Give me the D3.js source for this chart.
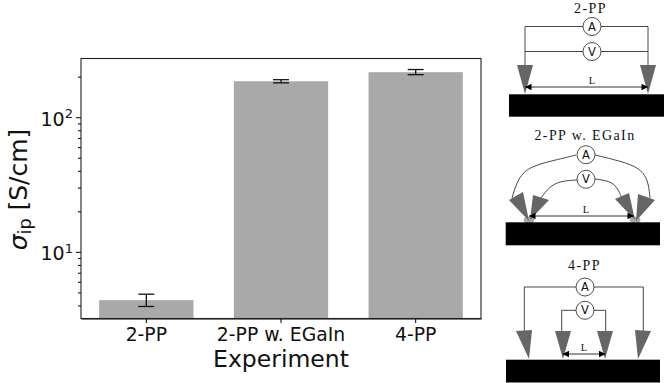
<!DOCTYPE html>
<html>
<head>
<meta charset="utf-8">
<script src="https://cdn.jsdelivr.net/npm/d3@7"></script>
<style>
body { margin: 0; background: #fff; }
svg { display: block; }
text { fill: #111; }
.sans { font-family: "DejaVu Sans", sans-serif; }
.serif { font-family: "Liberation Serif", serif; }
</style>
</head>
<body>
<svg width="664" height="383"></svg>
<script>
// datos
const categories = ["2-PP", "2-PP w. EGaIn", "4-PP"];
const values = [4.38, 185, 216];
const errLow = [3.93, 180, 207];
const errHigh = [4.85, 190, 226];
const majorTicks = [10, 100];
const minorTicks = [4, 5, 6, 7, 8, 9, 20, 30, 40, 50, 60, 70, 80, 90, 200];

const svg = d3.select("svg");
const plotLeft = 81, plotRight = 481, plotTop = 58.5, plotBottom = 318.5;

const x = d3.scaleBand().domain(categories).range([plotLeft, plotRight])
  .paddingInner(0.3).paddingOuter(0.135);
const y = d3.scaleLog().domain([3.2, 273]).range([plotBottom, plotTop]);

// barras
svg.selectAll("rect.bar")
  .data(categories)
  .enter()
  .append("rect")
  .attr("class", "bar")
  .attr("x", d => x(d))
  .attr("width", x.bandwidth())
  .attr("y", (d, i) => y(values[i]))
  .attr("height", (d, i) => plotBottom - y(values[i]))
  .attr("fill", "#a9a9a9");

// barras de error
const mid = d => x(d) + x.bandwidth() / 2;
const err = svg.selectAll("g.err").data(categories).enter().append("g").attr("class", "err")
  .attr("stroke", "#111").attr("stroke-width", 1.3);
err.append("line").attr("x1", mid).attr("x2", mid)
  .attr("y1", (d, i) => y(errLow[i])).attr("y2", (d, i) => y(errHigh[i]));
[errLow, errHigh].forEach(arr => {
  err.append("line")
    .attr("x1", d => mid(d) - 8).attr("x2", d => mid(d) + 8)
    .attr("y1", (d, i) => y(arr[i])).attr("y2", (d, i) => y(arr[i]));
});

// ejes
const xAxis = svg.append("g").attr("class", "sans")
  .attr("transform", `translate(0,${plotBottom})`)
  .call(d3.axisBottom(x).tickSize(4.5).tickSizeOuter(0).tickPadding(5));
xAxis.selectAll("text").attr("font-size", 18.8);

svg.append("g")
  .attr("transform", `translate(${plotLeft},0)`)
  .call(d3.axisLeft(y).tickValues(minorTicks).tickSize(3).tickFormat(""))
  .call(g => g.select(".domain").remove());

const yAxis = svg.append("g").attr("class", "sans")
  .attr("transform", `translate(${plotLeft},0)`)
  .call(d3.axisLeft(y).tickValues(majorTicks).tickSize(5).tickPadding(3).tickFormat(""));
yAxis.select(".domain").remove();
yAxis.selectAll(".tick text").each(function (d) {
  const t = d3.select(this).attr("font-size", 19).attr("dy", "0.41em");
  t.append("tspan").text("10");
  t.append("tspan").text(Math.log10(d)).attr("font-size", 13).attr("dy", -7.5);
});

svg.append("rect")
  .attr("x", plotLeft).attr("y", plotTop)
  .attr("width", plotRight - plotLeft).attr("height", plotBottom - plotTop)
  .attr("fill", "none").attr("stroke", "#222").attr("stroke-width", 1.1);

svg.append("text").attr("class", "sans")
  .attr("x", 281).attr("y", 367)
  .attr("text-anchor", "middle").attr("font-size", 23.5)
  .text("Experiment");

const yLab = svg.append("text").attr("class", "sans")
  .attr("transform", `translate(26.5,${(plotTop + plotBottom) / 2 + 1}) rotate(-90)`)
  .attr("text-anchor", "middle").attr("font-size", 25);
yLab.append("tspan").text("σ").attr("font-style", "italic");
yLab.append("tspan").text("ip").attr("font-size", 17.5).attr("dy", 4);
yLab.append("tspan").text(" [S/cm]").attr("dy", -4);

// esquemas de las medidas
const defs = svg.append("defs");
defs.append("marker").attr("id", "head").attr("viewBox", "0 0 10 10")
  .attr("refX", 10).attr("refY", 5)
  .attr("markerUnits", "userSpaceOnUse")
  .attr("markerWidth", 7).attr("markerHeight", 6.5)
  .attr("orient", "auto-start-reverse")
  .append("path").attr("d", "M0,0L10,5L0,10Z").attr("fill", "#000");

const probe = "#666";
const curve = d3.line().curve(d3.curveBasis);

function sample(x1, x2, y1, y2) {
  svg.append("rect").attr("x", x1).attr("y", y1)
    .attr("width", x2 - x1).attr("height", y2 - y1).attr("fill", "#000");
}
function title(cx, yy, txt) {
  svg.append("text").attr("class", "serif").attr("x", cx).attr("y", yy)
    .attr("text-anchor", "middle").attr("font-size", 14).attr("letter-spacing", 1.4).text(txt);
}
function wire(pts, smooth) {
  svg.append("path").attr("d", smooth ? curve(pts) : d3.line()(pts))
    .attr("fill", "none").attr("stroke", "#333").attr("stroke-width", 0.9);
}
function meter(cx, cy, txt) {
  svg.append("circle").attr("cx", cx).attr("cy", cy).attr("r", 9)
    .attr("fill", "#fff").attr("stroke", "#222").attr("stroke-width", 0.8);
  svg.append("text").attr("class", "sans").attr("x", cx).attr("y", cy + 4)
    .attr("text-anchor", "middle").attr("font-size", 11.5).text(txt);
}
function tri(pts) {
  svg.append("polygon").attr("points", pts.join(" ")).attr("fill", probe);
}
function span(x1, x2, yy, lx, ly) {
  svg.append("line").attr("x1", x1).attr("x2", x2).attr("y1", yy).attr("y2", yy)
    .attr("stroke", "#333").attr("stroke-width", 1)
    .attr("marker-start", "url(#head)").attr("marker-end", "url(#head)");
  svg.append("text").attr("class", "serif").attr("x", lx).attr("y", ly)
    .attr("text-anchor", "middle").attr("font-size", 10.5).text("L");
}

// 2-PP
title(590.5, 12.6, "2-PP");
wire([[525, 66], [525, 26.5], [648, 26.5], [648, 66]]);
wire([[525, 51.5], [648, 51.5]]);
tri([[517, 65], [533, 65], [525, 94]]);
tri([[640, 65], [656, 65], [648, 94]]);
sample(509, 664, 94.3, 116.7);
span(525, 648, 87, 592, 84.3);
meter(592, 26.5, "A");
meter(592, 51.5, "V");

// 2-PP w. EGaIn
title(585, 140.3, "2-PP w. EGaIn");
wire([[576, 155], [560, 159], [530, 166], [518, 178], [512, 198]], true);
wire([[595, 155], [612, 159], [637, 166], [648, 178], [650, 198]], true);
wire([[577, 180], [560, 181], [549, 187], [541, 198]], true);
wire([[595, 179], [610, 181], [617, 187], [622, 198]], true);
svg.selectAll("ellipse.drop").data([529, 635]).enter().append("ellipse")
  .attr("cx", d => d).attr("cy", 220).attr("rx", 5.5).attr("ry", 3.5).attr("fill", "#aaa");
tri([[509, 200], [523, 192], [529, 221]]);
tri([[533, 195], [549, 200], [530, 220]]);
tri([[615, 199], [629, 193], [635, 220]]);
tri([[638, 194], [655, 200], [636, 221]]);
sample(505.7, 660, 222.3, 245.3);
span(529, 634, 216, 586, 212.7);
meter(586, 154.7, "A");
meter(586, 179.3, "V");

// 4-PP
title(584.5, 270, "4-PP");
wire([[524.3, 332], [524.3, 287], [643.3, 287], [643.3, 332]]);
wire([[561.7, 332], [561.7, 310.3], [605.7, 310.3], [605.7, 332]]);
tri([[516, 331], [532, 330], [529, 359]]);
tri([[555, 331], [571, 331], [563, 359]]);
tri([[597, 331], [613, 331], [605, 359]]);
tri([[635, 330], [651, 331], [638, 359]]);
sample(506, 660, 359.7, 382.5);
span(562.5, 605.5, 354, 584, 351);
meter(585, 287, "A");
meter(585, 310.3, "V");
</script>
</body>
</html>
